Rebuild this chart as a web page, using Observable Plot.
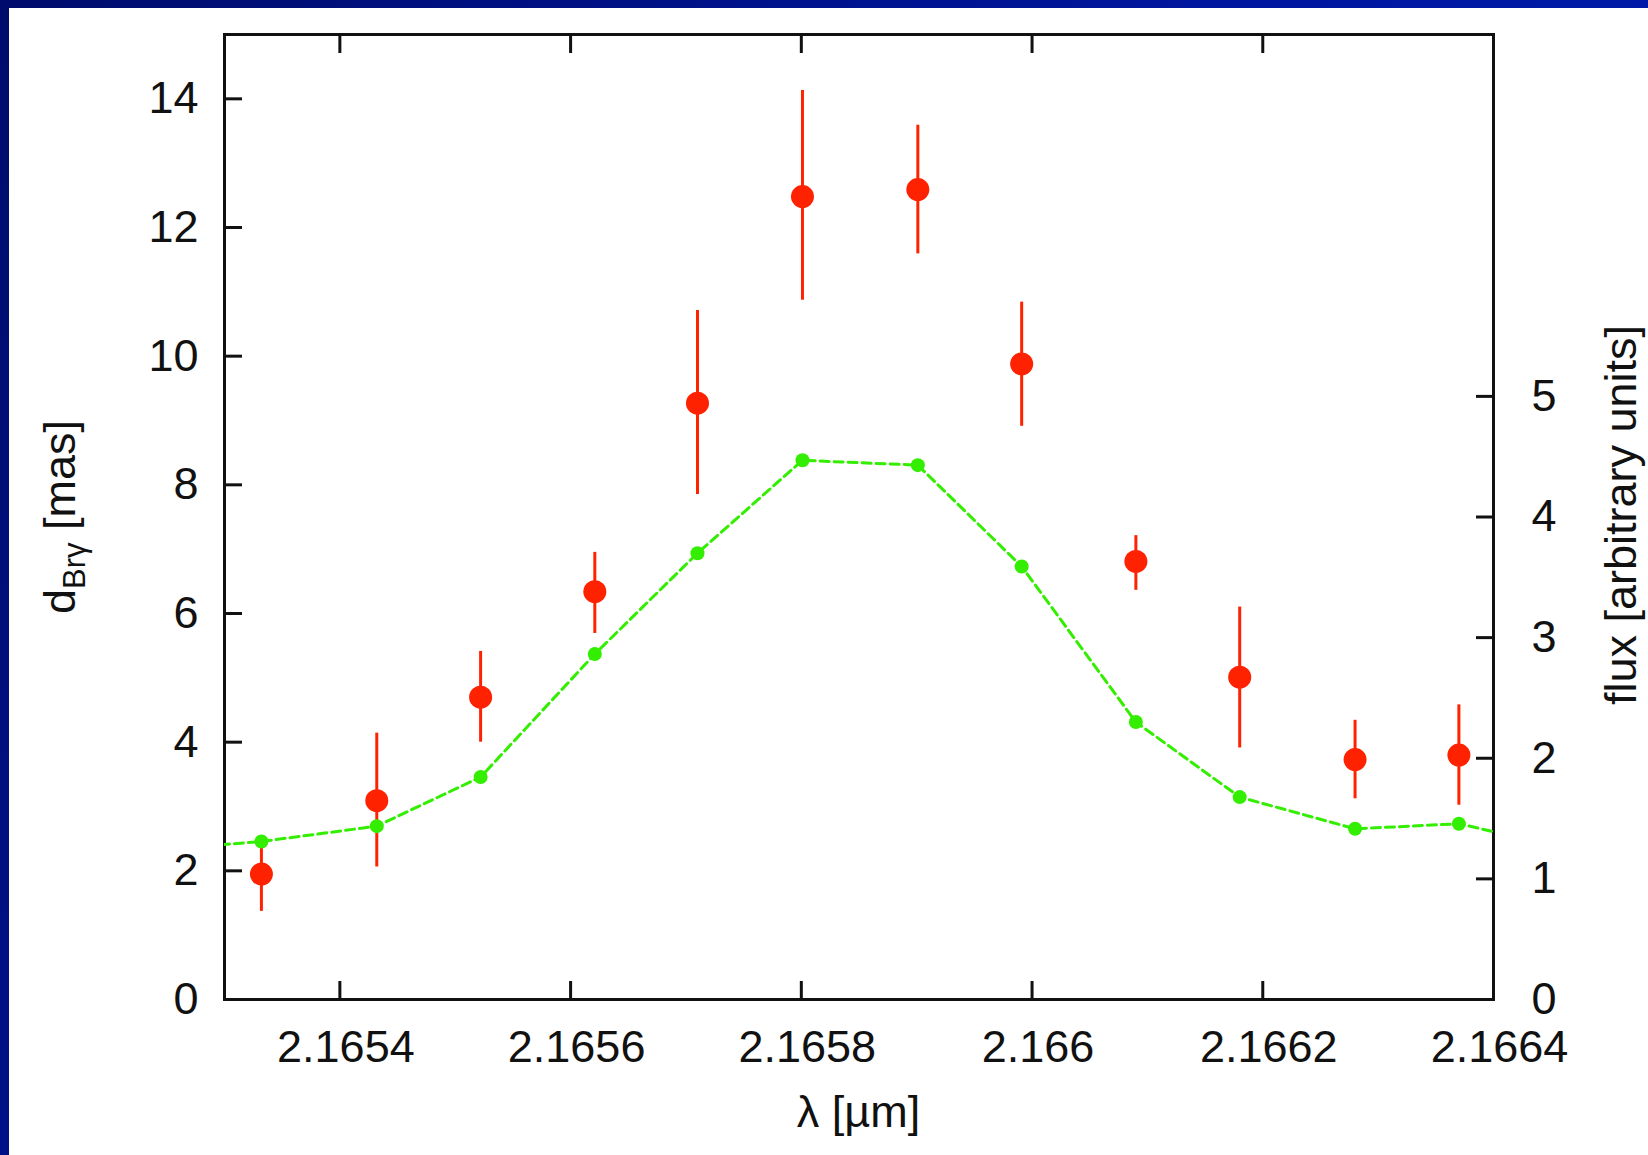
<!DOCTYPE html>
<html>
<head>
<meta charset="utf-8">
<script src="https://cdn.jsdelivr.net/npm/d3@7"></script>
<script src="https://cdn.jsdelivr.net/npm/@observablehq/plot@0.6"></script>
<style>
html, body { margin: 0; padding: 0; width: 1648px; height: 1155px; overflow: hidden; }
body { position: relative; background: linear-gradient(120deg, #000c6c 0%, #0016a0 55%, #0022b4 100%); }
#panel { position: absolute; left: 9px; top: 8px; right: 0; bottom: 0; background: #fff; }
#chart svg { position: absolute; left: 0; top: 0; }
</style>
</head>
<body>
<div id="panel"></div>
<div id="chart"></div>
<script>
// Spectral channels (µm)
const wavelength = [2.165332, 2.165432, 2.165522, 2.165621, 2.165710, 2.165801,
                    2.165901, 2.165991, 2.166090, 2.166180, 2.166280, 2.166370];
// d_Brγ [mas] with error-bar ends
const dBrg  = [1.95, 3.09, 4.70, 6.34, 9.27, 12.48, 12.59, 9.88, 6.81, 5.01, 3.73, 3.80];
const dLow  = [1.37, 2.06, 4.00, 5.69, 7.85, 10.87, 11.59, 8.91, 6.36, 3.91, 3.12, 3.02];
const dHigh = [2.53, 4.14, 5.41, 6.95, 10.71, 14.13, 13.59, 10.84, 7.21, 6.10, 4.34, 4.58];
// Flux (arbitrary units); first and last channels lie just outside the plotted range
const fluxWavelength = [2.165236, 2.165332, 2.165432, 2.165522, 2.165621, 2.165710, 2.165801,
                        2.165901, 2.165991, 2.166090, 2.166180, 2.166280, 2.166370, 2.166465];
const flux = [1.235, 1.31, 1.437, 1.844, 2.864, 3.70, 4.47, 4.43, 3.59, 2.30, 1.678, 1.415, 1.457, 1.25];

const xTicks = [2.1654, 2.1656, 2.1658, 2.166, 2.1662, 2.1664];
const xTickLabels = ["2.1654", "2.1656", "2.1658", "2.166", "2.1662", "2.1664"];
const yTicks = [0, 2, 4, 6, 8, 10, 12, 14];
const fluxTicks = [0, 1, 2, 3, 4, 5];
const xDomain = [2.1653, 2.1664];
const yDomain = [0, 15];
const fluxDomain = [0, 8];

const FONT = '"Liberation Sans", Arial, Helvetica, sans-serif';
const RED = "#ff2200";
const GREEN = "#33ee00";
const INK = "#111111";

const rows = wavelength.map((x, i) => ({x, d: dBrg[i], lo: dLow[i], hi: dHigh[i]}));
const fluxRows = fluxWavelength.map((x, i) => ({x, f: flux[i]}));

const common = {
  width: 1648, height: 1155,
  marginLeft: 224, marginRight: 155, marginTop: 34, marginBottom: 156,
  style: {background: "transparent", fontFamily: FONT, fontSize: "45px", color: INK, overflow: "visible"}
};

const p1 = Plot.plot({
  ...common,
  x: {domain: xDomain},
  y: {domain: yDomain},
  marks: [
    Plot.ruleX(rows, {x: "x", y1: "lo", y2: "hi", stroke: RED, strokeWidth: 3}),
    Plot.dot(rows, {x: "x", y: "d", r: 11.5, fill: RED}),
    // bottom ticks (inward) and their labels
    Plot.axisX(xTicks, {anchor: "bottom", tickSize: -18, strokeWidth: 3, tickFormat: () => "", label: null}),
    Plot.axisX(xTicks, {anchor: "bottom", tickSize: 0, tickPadding: 31, dx: 6,
      tickFormat: d => xTickLabels[xTicks.indexOf(d)], label: null}),
    // mirrored top ticks
    Plot.axisX(xTicks, {anchor: "top", tickSize: -18, strokeWidth: 3, tickFormat: () => "", label: null}),
    Plot.axisY(yTicks, {anchor: "left", tickSize: -18, tickPadding: 44, strokeWidth: 3,
      tickFormat: d => String(d), label: null}),
    Plot.frame({stroke: INK, strokeWidth: 3})
  ]
});

const p2 = Plot.plot({
  ...common,
  x: {domain: xDomain, axis: null},
  y: {domain: fluxDomain},
  marks: [
    Plot.axisY(fluxTicks, {anchor: "right", tickSize: -18, tickPadding: 56, strokeWidth: 3,
      tickFormat: d => String(d), label: null}),
    Plot.line(fluxRows, {x: "x", y: "f", stroke: GREEN, strokeWidth: 3, strokeDasharray: "9,5", clip: true}),
    Plot.dot(fluxRows, {x: "x", y: "f", r: 7, fill: GREEN, clip: true})
  ]
});

// Axis titles
const s1 = d3.select(p1);
s1.append("text")
  .attr("x", 858.5).attr("y", 1127)
  .attr("text-anchor", "middle").attr("font-size", 45).attr("fill", INK)
  .text("λ [µm]");
const lt = s1.append("text")
  .attr("transform", "translate(75,517) rotate(-90)")
  .attr("text-anchor", "middle").attr("font-size", 45).attr("fill", INK);
lt.append("tspan").text("d");
lt.append("tspan").attr("font-size", 31).attr("dy", 10).text("Brγ");
lt.append("tspan").attr("dy", -10).text(" [mas]");

const s2 = d3.select(p2);
s2.append("text")
  .attr("transform", "translate(1636,515) rotate(-90)")
  .attr("text-anchor", "middle").attr("font-size", 45).attr("fill", INK)
  .text("flux [arbitrary units]");

const chart = document.getElementById("chart");
chart.appendChild(p1);
chart.appendChild(p2);
</script>
</body>
</html>
